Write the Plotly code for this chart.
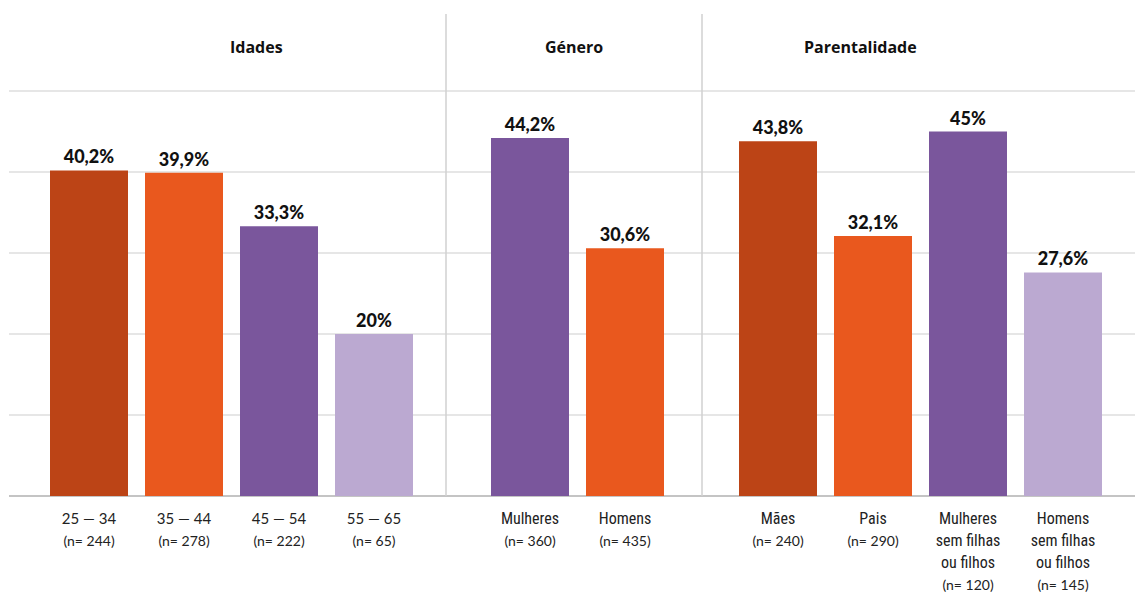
import plotly.graph_objects as go

# --- data -------------------------------------------------------------
idades_cat = ["25 — 34", "35 — 44", "45 — 54", "55 — 65"]
idades_n = [244, 278, 222, 65]
idades_val = [40.2, 39.9, 33.3, 20]

genero_cat = ["Mulheres", "Homens"]
genero_n = [360, 435]
genero_val = [44.2, 30.6]

parent_cat = ["Mães", "Pais", "Mulheres<br>sem filhas<br>ou filhos", "Homens<br>sem filhas<br>ou filhos"]
parent_n = [240, 290, 120, 145]
parent_val = [43.8, 32.1, 45, 27.6]

panel_titles = ["Idades", "Género", "Parentalidade"]

# --- styles -----------------------------------------------------------
DARK = "#BC4416"
ORANGE = "#E9581E"
PURPLE = "#7A569C"
LAVENDER = "#BBA9D1"

idades_colors = [DARK, ORANGE, PURPLE, LAVENDER]
genero_colors = [PURPLE, ORANGE]
parent_colors = [DARK, ORANGE, PURPLE, LAVENDER]

W, H = 1135, 597
TOP, BASE = 14, 496
PX_PER_UNIT = 8.1
Y_MAX = (BASE - TOP) / PX_PER_UNIT

NARROW = "Liberation Sans Narrow, Roboto Condensed, Arial Narrow, sans-serif"
ROUND = "Lato, Open Sans, sans-serif"
BOLD_FONT = "Lato, Open Sans, sans-serif"
TITLE_FONT = "Open Sans, Lato, sans-serif"


def fmt_pct(v):
    return f"{v:g}".replace(".", ",") + "%"


def span(txt, family, size):
    return f"<span style='font-family:{family};font-size:{size}px'>{txt}</span>"


def tick_text(cat, n, numeric):
    fam = ROUND if numeric else NARROW
    size = 15 if numeric else 16
    lines = [span(part, fam, size) for part in cat.split("<br>")]
    lines.append(span(f"(n= {n})", ROUND, 14))
    return "<br>".join(lines)


# panel pixel extents and category slot width
panels = [
    dict(cat=idades_cat, n=idades_n, val=idades_val, col=idades_colors, x0=9, x1=446, first=89, numeric=True),
    dict(cat=genero_cat, n=genero_n, val=genero_val, col=genero_colors, x0=446, x1=702, first=530, numeric=False),
    dict(cat=parent_cat, n=parent_n, val=parent_val, col=parent_colors, x0=702, x1=1135, first=778, numeric=False),
]
SLOT = 95

fig = go.Figure()
layout = dict()

for i, p in enumerate(panels, start=1):
    xa = "x" if i == 1 else f"x{i}"
    ya = "y" if i == 1 else f"y{i}"
    fig.add_trace(go.Bar(
        x=list(range(len(p["cat"]))),
        y=p["val"],
        marker=dict(color=p["col"], line=dict(width=0)),
        text=[fmt_pct(v) for v in p["val"]],
        textposition="outside",
        cliponaxis=False,
        textfont=dict(family=BOLD_FONT, size=18, color="#111111", weight=900),
        xaxis=xa, yaxis=ya,
        hoverinfo="skip",
    ))
    k = len(p["cat"])
    left = -(p["first"] - p["x0"]) / SLOT
    right = (k - 1) + (p["x1"] - (p["first"] + SLOT * (k - 1))) / SLOT
    xkey = "xaxis" if i == 1 else f"xaxis{i}"
    ykey = "yaxis" if i == 1 else f"yaxis{i}"
    layout[xkey] = dict(
        domain=[p["x0"] / W, p["x1"] / W],
        range=[left, right],
        tickvals=list(range(k)),
        ticktext=[tick_text(c, n, p["numeric"]) for c, n in zip(p["cat"], p["n"])],
        tickfont=dict(family=ROUND, size=17, color="#222222"),
        ticklabelstandoff=10,
        showgrid=False, zeroline=False, showline=False, ticks="",
        anchor=ya,
        fixedrange=True,
    )
    layout[ykey] = dict(
        domain=[0, 1],
        range=[0, Y_MAX],
        dtick=10,
        showgrid=True, gridcolor="#E6E6E6", gridwidth=1.5,
        zeroline=True, zerolinecolor="#C4C4C4", zerolinewidth=1.5,
        showticklabels=False, ticks="",
        anchor=xa,
        fixedrange=True,
    )
    fig.add_annotation(
        text=f"<b>{panel_titles[i - 1]}</b>",
        x=(p["x0"] + p["x1"]) / 2 / W, xref="paper",
        y=(BASE - 47) / (BASE - TOP), yref="paper", yanchor="middle",
        showarrow=False,
        font=dict(family=TITLE_FONT, size=16, color="#111111"),
    )

# vertical separators between panels
for xpix in (446, 702):
    fig.add_shape(type="line", xref="paper", yref="paper",
                  x0=xpix / W, x1=xpix / W, y0=0, y1=1,
                  line=dict(color="#D0D0D0", width=1.5))

fig.update_layout(
    **layout,
    width=W, height=H,
    margin=dict(l=0, r=0, t=TOP, b=H - BASE),
    plot_bgcolor="white", paper_bgcolor="white",
    bargap=1 - 78 / SLOT,
    showlegend=False,
)

fig.write_html("out.html")
